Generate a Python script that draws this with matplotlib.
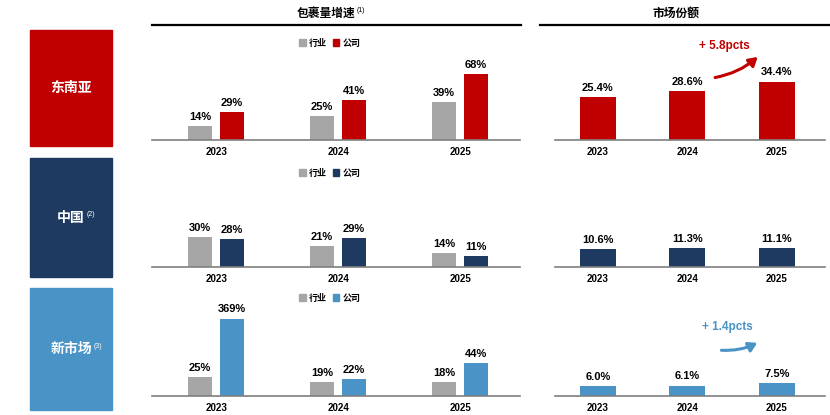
import matplotlib
matplotlib.use("Agg")
import matplotlib.pyplot as plt
from matplotlib.patches import Rectangle, Patch
import numpy as np

plt.rcParams['font.family'] = ['Liberation Sans', 'Noto Sans CJK SC', 'DejaVu Sans']
CJK = ['Noto Sans CJK SC', 'DejaVu Sans']

years = ['2023', '2024', '2025']
regions = ['东南亚', '中国', '新市场']
region_notes = ['', '(2)', '(3)']
industry_growth = [[14, 25, 39], [30, 21, 14], [25, 19, 18]]
company_growth = [[29, 41, 68], [28, 29, 11], [369, 22, 44]]
market_share = [[25.4, 28.6, 34.4], [10.6, 11.3, 11.1], [6.0, 6.1, 7.5]]
share_change = ['+ 5.8pcts', None, '+ 1.4pcts']
legend_labels = ['行业', '公司']

colors = ['#C00000', '#1F3A60', '#4A93C6']
grey = '#A6A6A6'

W, H = 830, 415
fig = plt.figure(figsize=(W / 100, H / 100), dpi=100)
renderer = fig.canvas.get_renderer()


def px_axes(x0, y_top, x1, y_base):
    return fig.add_axes([x0 / W, 1 - y_base / H, (x1 - x0) / W, (y_base - y_top) / H])


def style(ax):
    for s in ['top', 'right', 'left']:
        ax.spines[s].set_visible(False)
    ax.spines['bottom'].set_color('#7F7F7F')
    ax.spines['bottom'].set_linewidth(1.2)
    ax.set_yticks([])
    ax.set_xticks(range(3))
    ax.set_xticklabels(years, fontsize=7, fontweight='bold')
    ax.tick_params(axis='x', length=0, pad=5)
    ax.patch.set_alpha(0)


def note_after(t, note, dy, color):
    # small superscript note placed right after a text
    ext = t.get_window_extent(renderer)
    fig.text((ext.x1 + 1.5) / W, (ext.y1 - dy) / H, note, fontsize=5, color=color,
             ha='left', va='top')


# headers
h1 = fig.text(326 / W, 1 - 13 / H, '包裹量增速', family=CJK, fontsize=8.5, fontweight='bold',
              ha='center', va='center')
note_after(h1, '(1)', 1, 'black')
fig.text(676 / W, 1 - 13 / H, '市场份额', family=CJK, fontsize=8.5, fontweight='bold',
         ha='center', va='center')
fig.add_artist(plt.Line2D([152 / W, 521 / W], [1 - 25 / H] * 2, color='black', lw=1.6))
fig.add_artist(plt.Line2D([540 / W, 830 / W], [1 - 25 / H] * 2, color='black', lw=1.6))

rows = [(50, 140, 93), (180, 267, 87), (305, 396, 121)]
boxes = [(30, 146), (158, 277), (288, 410)]
caps = [None, None, 103]
share_lim = [53, 51, 53.5]

for i in range(3):
    top, base, ylim = rows[i]
    c = colors[i]

    # region box
    bt, bb = boxes[i]
    fig.add_artist(Rectangle((30 / W, 1 - bb / H), 82 / W, (bb - bt) / H,
                             transform=fig.transFigure, color=c))
    cy = 1 - (bt + bb) / 2 / H
    t = fig.text(71 / W, cy, regions[i], family=CJK, fontsize=10, fontweight='bold',
                 color='white', ha='center', va='center')
    if region_notes[i]:
        note_after(t, region_notes[i], 1, 'white')

    # growth panel
    ax = px_axes(152, top, 520, base)
    style(ax)
    ax.set_xlim(-0.525, 2.49)
    ax.set_ylim(0, ylim)
    x = np.arange(3)
    ind = np.array(industry_growth[i], dtype=float)
    com = np.array(company_growth[i], dtype=float)
    com_disp = np.minimum(com, caps[i]) if caps[i] else com
    w = 0.197
    ax.bar(x - 0.131, ind, w, color=grey)
    ax.bar(x + 0.131, com_disp, w, color=c)
    for xi, v in zip(x - 0.131, ind):
        ax.annotate(f'{v:.0f}%', (xi, v), xytext=(0, 3), textcoords='offset points',
                    ha='center', va='bottom', fontsize=8, fontweight='bold')
    for xi, v, d in zip(x + 0.131, com, com_disp):
        ax.annotate(f'{v:.0f}%', (xi, d), xytext=(0, 3), textcoords='offset points',
                    ha='center', va='bottom', fontsize=8, fontweight='bold')
    handles = [Patch(color=grey), Patch(color=c)]
    fig.legend(handles, legend_labels, loc='center', ncol=2, frameon=False,
               bbox_to_anchor=(330 / W, 1 - (top - 7) / H),
               prop={'family': CJK, 'size': 6.5, 'weight': 'bold'},
               handlelength=0.7, handleheight=0.7, handletextpad=0.4, columnspacing=0.6)

    # market share panel
    ax2 = px_axes(555, top, 825, base)
    style(ax2)
    ax2.set_xlim(-0.48, 2.54)
    ax2.set_ylim(0, share_lim[i])
    sh = market_share[i]
    ax2.bar(x, sh, 0.40, color=c)
    for xi, v in zip(x, sh):
        ax2.annotate(f'{v:.1f}%', (xi, v), xytext=(0, 3), textcoords='offset points',
                     ha='center', va='bottom', fontsize=8, fontweight='bold')
    if share_change[i]:
        if i == 0:
            p0, p1, pt = (1.28, 36.5), (1.81, 50), (1.42, 55.3)
        else:
            p0, p1, pt = (1.35, 27), (1.81, 32), (1.45, 40.6)
        ax2.annotate('', xy=p1, xytext=p0, annotation_clip=False,
                     arrowprops=dict(arrowstyle='-|>,head_width=0.3,head_length=0.5',
                                     connectionstyle='arc3,rad=0.15', lw=2.2, color=c))
        ax2.text(pt[0], pt[1], share_change[i], color=c, fontsize=8.5, fontweight='bold',
                 ha='center', va='center', clip_on=False)

fig.savefig('out.png', dpi=100)
